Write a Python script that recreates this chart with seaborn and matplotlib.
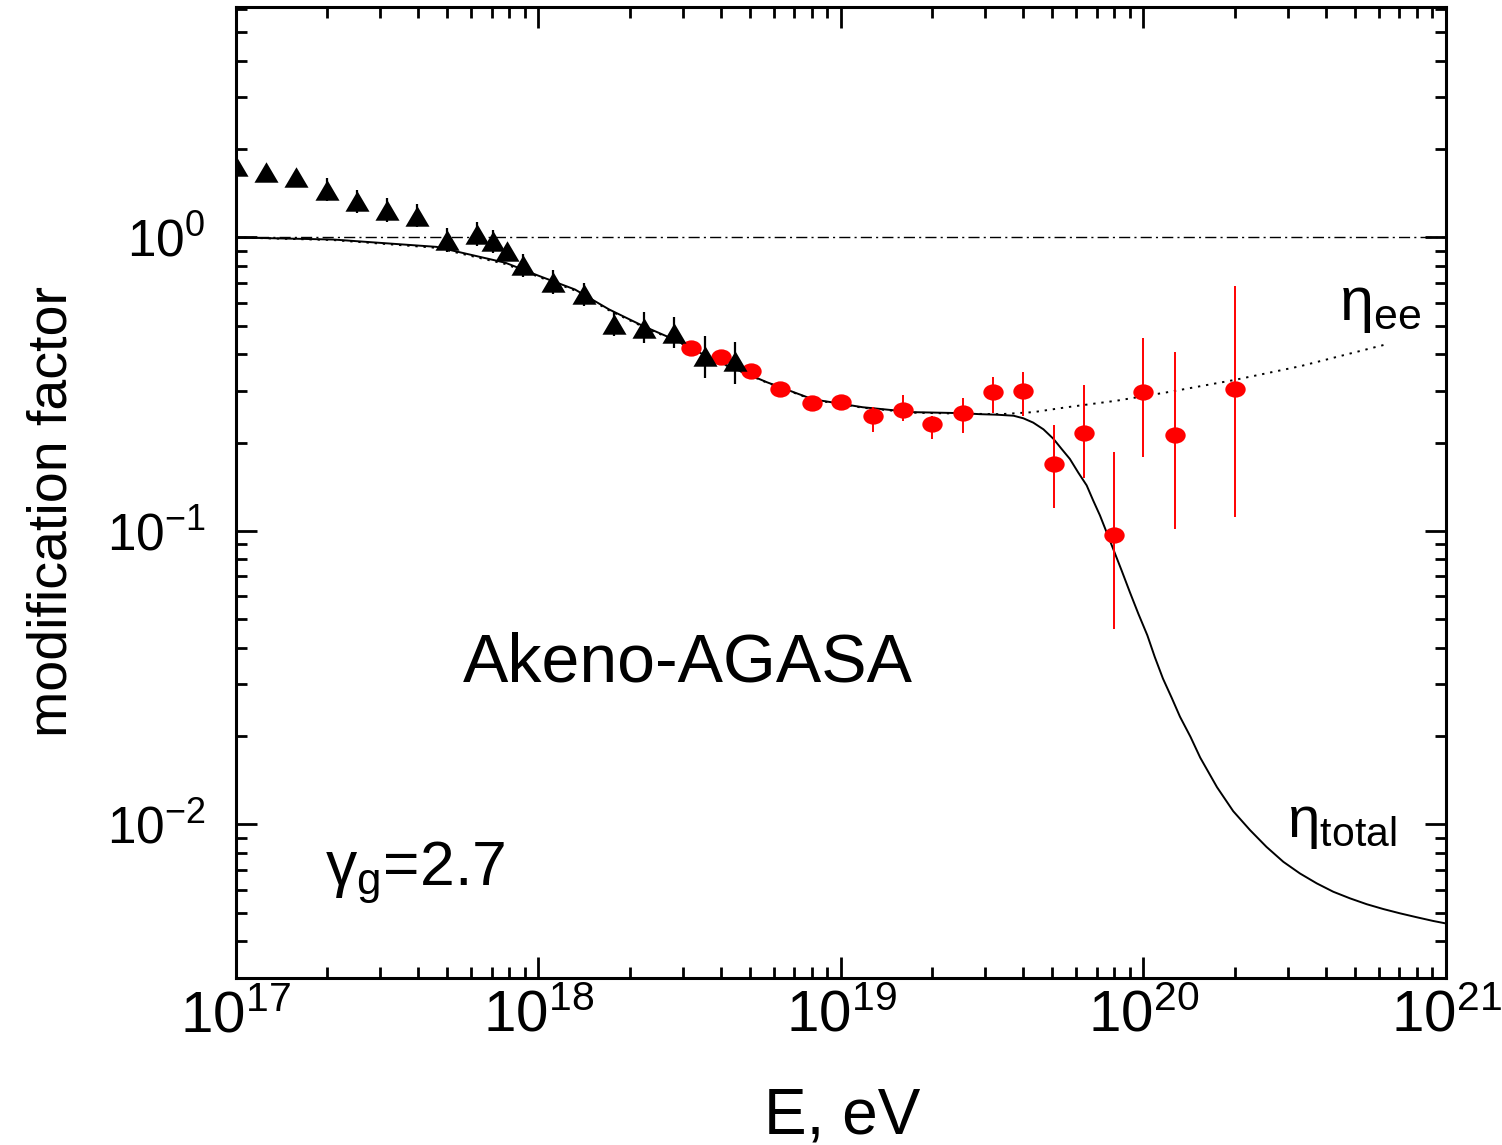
import numpy as np
import matplotlib
matplotlib.use('Agg')
import matplotlib.pyplot as plt
from matplotlib.path import Path
from matplotlib.transforms import Affine2D
import seaborn as sns

# Akeno data (black triangles): E [eV], modification factor, error bar ends
akeno_E = [1.0e17, 1.26e17, 1.585e17, 2.0e17, 2.51e17, 3.16e17, 3.97e17, 4.99e17,
           6.27e17, 7.08e17, 7.90e17, 8.89e17, 1.12e18, 1.41e18, 1.78e18, 2.24e18,
           2.81e18, 3.54e18, 4.46e18]
akeno_eta = [1.748, 1.673, 1.609, 1.456, 1.329, 1.242, 1.188, 0.979,
             1.029, 0.969, 0.898, 0.803, 0.705, 0.640, 0.508, 0.493,
             0.474, 0.395, 0.380]
akeno_lo = [1.748, 1.673, 1.609, 1.328, 1.213, 1.133, 1.084, 0.893,
            0.939, 0.884, 0.860, 0.733, 0.643, 0.584, 0.463, 0.436,
            0.419, 0.333, 0.316]
akeno_hi = [1.748, 1.673, 1.609, 1.596, 1.457, 1.361, 1.302, 1.073,
            1.128, 1.062, 0.940, 0.880, 0.773, 0.701, 0.557, 0.558,
            0.536, 0.462, 0.441]

# AGASA data (red points)
agasa_E = [3.19e18, 4.0e18, 5.04e18, 6.3e18, 8.0e18, 1.0e19, 1.28e19, 1.6e19, 2.0e19,
           2.53e19, 3.18e19, 4.0e19, 5.06e19, 6.35e19, 7.98e19, 1.0e20, 1.27e20, 2.0e20]
agasa_eta = [0.419, 0.391, 0.350, 0.304, 0.272, 0.275, 0.246, 0.258, 0.231,
             0.252, 0.297, 0.299, 0.169, 0.215, 0.0969, 0.297, 0.212, 0.304]
agasa_lo = [0.419, 0.391, 0.350, 0.304, 0.272, 0.275, 0.217, 0.237, 0.206,
            0.216, 0.252, 0.246, 0.120, 0.151, 0.0464, 0.179, 0.1016, 0.1116]
agasa_hi = [0.419, 0.391, 0.350, 0.304, 0.272, 0.275, 0.264, 0.290, 0.246,
            0.283, 0.334, 0.347, 0.229, 0.314, 0.186, 0.453, 0.406, 0.681]

# model curves
total_E = [1.00e17, 2.10e17, 4.60e17, 7.78e17, 1.01e18, 1.32e18, 1.71e18, 2.22e18,
           2.88e18, 3.75e18, 5.70e18, 8.07e18, 1.18e19, 1.73e19, 2.53e19, 2.88e19,
           3.27e19, 3.72e19, 4.01e19, 4.32e19, 4.67e19, 5.04e19, 5.37e19, 5.71e19,
           6.09e19, 6.49e19, 6.82e19, 7.18e19, 7.55e19, 7.94e19, 8.47e19, 9.02e19,
           9.62e19, 1.03e20, 1.09e20, 1.16e20, 1.24e20, 1.32e20, 1.43e20, 1.54e20,
           1.75e20, 1.98e20, 2.25e20, 2.55e20, 2.90e20, 3.29e20, 3.74e20, 4.24e20,
           4.82e20, 5.47e20, 6.21e20, 7.05e20, 8.00e20, 9.08e20, 1.00e21]
total_eta = [1.000, 0.984, 0.929, 0.820, 0.738, 0.665, 0.569, 0.499,
             0.444, 0.385, 0.321, 0.281, 0.264, 0.254, 0.252, 0.250,
             0.249, 0.247, 0.242, 0.234, 0.222, 0.206, 0.190, 0.176,
             0.158, 0.143, 0.127, 0.113, 0.0991, 0.0869, 0.0733, 0.0618,
             0.0522, 0.0441, 0.0372, 0.0314, 0.0270, 0.0233, 0.0199, 0.0169,
             0.0134, 0.0111, 0.00957, 0.00839, 0.00746, 0.00681, 0.00630, 0.00590,
             0.00560, 0.00535, 0.00515, 0.00498, 0.00483, 0.00469, 0.00460]
ee_E = [1.00e17, 2.10e17, 4.60e17, 7.78e17, 1.01e18, 1.32e18, 1.71e18, 2.22e18,
        2.88e18, 3.75e18, 5.70e18, 8.07e18, 1.18e19, 1.73e19, 2.53e19, 3.36e19,
        4.32e19, 5.58e19, 8.17e19, 1.20e20, 2.00e20, 3.29e20, 6.38e20]
ee_eta = [1.000, 0.980, 0.922, 0.812, 0.732, 0.660, 0.565, 0.496,
          0.442, 0.384, 0.320, 0.280, 0.263, 0.253, 0.251, 0.250,
          0.254, 0.264, 0.278, 0.297, 0.327, 0.364, 0.433]

sns.set_theme(style="ticks")
plt.rcParams['font.family'] = ['Liberation Sans', 'DejaVu Sans']
plt.rcParams['text.color'] = 'black'
plt.rcParams['axes.labelcolor'] = 'black'
plt.rcParams['xtick.color'] = 'black'
plt.rcParams['ytick.color'] = 'black'
plt.rcParams['axes.unicode_minus'] = False

fig = plt.figure(figsize=(15.02, 11.45), dpi=100)
ax = fig.add_axes([0.1571, 0.1459, 0.8056, 0.8480])
ax.set_xscale('log')
ax.set_yscale('log')

ax.axhline(1.0, color='black', lw=1.0, ls=(0, (8, 3, 1.5, 3)), zorder=1)
sns.lineplot(x=ee_E, y=ee_eta, ax=ax, color='black', lw=1.4, ls=(0, (1.2, 3)),
             estimator=None, sort=False, zorder=2)
sns.lineplot(x=total_E, y=total_eta, ax=ax, color='black', lw=1.4,
             estimator=None, sort=False, zorder=2)

# error bars
a_eta = np.array(akeno_eta)
ax.errorbar(akeno_E, a_eta, yerr=[a_eta - np.array(akeno_lo), np.array(akeno_hi) - a_eta],
            fmt='none', ecolor='black', elinewidth=1.6, capsize=0, zorder=4)
g_eta = np.array(agasa_eta)
ax.errorbar(agasa_E, g_eta, yerr=[g_eta - np.array(agasa_lo), np.array(agasa_hi) - g_eta],
            fmt='none', ecolor='red', elinewidth=1.4, capsize=0, zorder=3)

# markers
ellipse = Path.unit_circle().transformed(Affine2D().scale(1.0, 0.8))
triangle = [(-1.0, -0.85), (1.0, -0.85), (0.0, 0.85), (-1.0, -0.85)]
sns.scatterplot(x=agasa_E, y=agasa_eta, ax=ax, marker=ellipse, s=215,
                color='#ff0000', linewidth=0, zorder=3)
sns.scatterplot(x=akeno_E, y=akeno_eta, ax=ax, marker=triangle, s=300,
                color='black', linewidth=0, zorder=5)

ax.set_xlim(1e17, 1e21)
ax.set_ylim(0.003, 6.1)

for side in ax.spines.values():
    side.set_linewidth(2.2)
    side.set_color('black')
ax.tick_params(which='both', direction='in', top=True, right=True, width=2.0, color='black')
ax.tick_params(which='major', length=15)
ax.tick_params(which='minor', length=8)
ax.tick_params(axis='x', which='major', pad=8, labelsize=42)
ax.tick_params(axis='y', which='major', pad=22, labelsize=37)

ax.set_xlabel('E, eV', fontsize=46)
ax.xaxis.set_label_coords(0.501, -0.112)
ax.set_ylabel('modification factor', fontsize=40)
ax.yaxis.set_label_coords(-0.13, 0.48)

ax.text(0.1876, 0.3048, 'Akeno-AGASA', transform=ax.transAxes, fontsize=49,
        ha='left', va='baseline')
ax.text(0.0736, 0.0958, r'$\mathdefault{\gamma_{g}}$=2.7', transform=ax.transAxes,
        fontsize=45, ha='left', va='baseline')
ax.text(0.912, 0.678, r'$\mathdefault{\eta_{ee}}$', transform=ax.transAxes,
        fontsize=44, ha='left', va='baseline')
ax.text(0.869, 0.145, r'$\mathdefault{\eta_{total}}$', transform=ax.transAxes,
        fontsize=42, ha='left', va='baseline')

fig.savefig('out.png', dpi=100)
